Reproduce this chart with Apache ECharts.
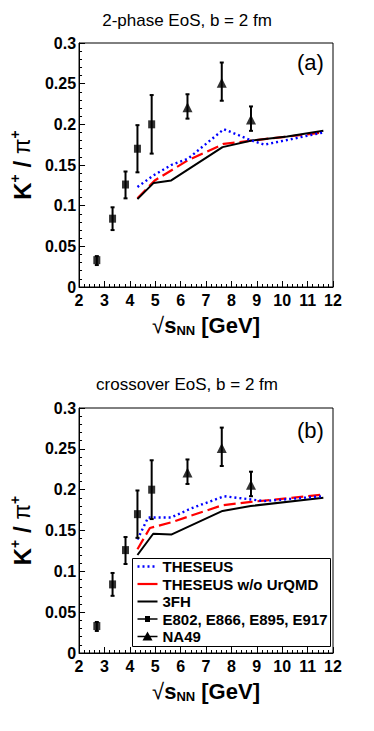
<!DOCTYPE html>
<html>
<head>
<meta charset="utf-8">
<script src="https://cdn.jsdelivr.net/npm/echarts@6/dist/echarts.min.js"></script>
<style>
  html, body { margin: 0; padding: 0; background: #fff; }
  #chart { width: 374px; height: 731px; }
</style>
</head>
<body>
<div id="chart"></div>
<script>
// measured K+/pi+ (same in both panels)
const agsX = [2.70, 3.32, 3.83, 4.30, 4.86];
const agsY = [0.033, 0.084, 0.126, 0.170, 0.200];
const agsLo = [0.027, 0.070, 0.109, 0.141, 0.164];
const agsHi = [0.038, 0.098, 0.142, 0.199, 0.236];
const na49X = [6.27, 7.62, 8.77];
const na49Y = [0.221, 0.251, 0.206];
const na49Lo = [0.207, 0.229, 0.192];
const na49Hi = [0.237, 0.276, 0.222];

// panel (a): 2-phase EoS
const theseusAX = [4.30, 4.92, 5.63, 6.30, 7.70, 8.10, 8.80, 9.30, 11.62];
const theseusAY = [0.123, 0.137, 0.150, 0.158, 0.194, 0.189, 0.180, 0.175, 0.190];
const noUrqmdAX = [4.30, 4.98, 6.30, 7.70, 8.80, 11.62];
const noUrqmdAY = [0.109, 0.131, 0.156, 0.176, 0.180, 0.190];
const threeFhAX = [4.30, 4.94, 5.63, 7.65, 8.80, 10.20, 11.62];
const threeFhAY = [0.108, 0.128, 0.131, 0.172, 0.180, 0.185, 0.192];

// panel (b): crossover EoS
const theseusBX = [4.30, 4.72, 5.63, 6.41, 7.71, 8.50, 9.28, 11.62];
const theseusBY = [0.139, 0.166, 0.166, 0.177, 0.192, 0.189, 0.186, 0.192];
const noUrqmdBX = [4.30, 4.79, 5.63, 7.65, 8.77, 11.62];
const noUrqmdBY = [0.127, 0.153, 0.160, 0.181, 0.185, 0.194];
const threeFhBX = [4.30, 4.92, 5.63, 7.65, 8.76, 11.62];
const threeFhBY = [0.120, 0.146, 0.145, 0.174, 0.180, 0.190];

const panelTitles = ['2-phase EoS, b = 2 fm', 'crossover EoS, b = 2 fm'];
const panelTags = ['(a)', '(b)'];
const legendNames = ['THESEUS', 'THESEUS w/o UrQMD', '3FH', 'E802, E866, E895, E917', 'NA49'];

const FONT = '"Liberation Sans", Arial, Helvetica, sans-serif';
const chart = echarts.init(document.getElementById('chart'), null, { renderer: 'svg' });

const zip = (xs, ys) => xs.map((x, i) => [x, ys[i]]);
const errData = (xs, ys, lo, hi) => xs.map((x, i) => [x, ys[i], lo[i], hi[i]]);

// vertical error bar with small caps
function renderErr(params, api) {
  const x = api.value(0);
  const top = api.coord([x, api.value(3)]);
  const bot = api.coord([x, api.value(2)]);
  const style = { stroke: '#000', lineWidth: 2 };
  const cap = 2;
  return {
    type: 'group',
    children: [
      { type: 'line', shape: { x1: top[0], y1: top[1], x2: bot[0], y2: bot[1] }, style },
      { type: 'line', shape: { x1: top[0] - cap, y1: top[1], x2: top[0] + cap, y2: top[1] }, style },
      { type: 'line', shape: { x1: bot[0] - cap, y1: bot[1], x2: bot[0] + cap, y2: bot[1] }, style }
    ]
  };
}

function panelSeries(i, curves) {
  const base = { xAxisIndex: i, yAxisIndex: i, silent: true, animation: false };
  return [
    Object.assign({}, base, {
      name: legendNames[1], type: 'line', symbol: 'none', data: zip(curves[1][0], curves[1][1]),
      lineStyle: { color: '#ff0000', width: 2.2, type: [12, 5] }, z: 3
    }),
    Object.assign({}, base, {
      name: legendNames[2], type: 'line', symbol: 'none', data: zip(curves[2][0], curves[2][1]),
      lineStyle: { color: '#000', width: 2 }, z: 3
    }),
    Object.assign({}, base, {
      name: legendNames[0], type: 'line', symbol: 'none', data: zip(curves[0][0], curves[0][1]),
      lineStyle: { color: '#0000ff', width: 2.4, type: [2, 3] }, z: 4
    }),
    Object.assign({}, base, {
      type: 'custom', renderItem: renderErr, encode: { x: 0, y: [1, 2, 3] },
      data: errData(agsX, agsY, agsLo, agsHi), z: 5
    }),
    Object.assign({}, base, {
      type: 'custom', renderItem: renderErr, encode: { x: 0, y: [1, 2, 3] },
      data: errData(na49X, na49Y, na49Lo, na49Hi), z: 5
    }),
    Object.assign({}, base, {
      name: legendNames[3], type: 'scatter', symbol: 'rect', symbolSize: [7, 8],
      itemStyle: { color: '#000' }, data: zip(agsX, agsY), z: 6
    }),
    Object.assign({}, base, {
      name: legendNames[4], type: 'scatter', symbol: 'triangle', symbolSize: [10, 10],
      itemStyle: { color: '#000' }, data: zip(na49X, na49Y), z: 6
    })
  ];
}

const tickCommon = {
  axisLine: { lineStyle: { color: '#000', width: 1 } },
  axisTick: { inside: true, length: 6, lineStyle: { color: '#000' } },
  minorTick: { show: true, splitNumber: 5, length: 3, lineStyle: { color: '#000' } },
  splitLine: { show: false },
  minorSplitLine: { show: false }
};

function xAxisFor(i) {
  return Object.assign({}, tickCommon, {
    type: 'value', gridIndex: i, min: 2, max: 12, interval: 1,
    axisLabel: { color: '#000', fontWeight: 'bold', fontSize: 16, fontFamily: FONT, margin: 5 },
    name: '{sq|√}{b|s}{sub|NN}{b| [GeV]}',
    nameLocation: 'middle', nameGap: 26,
    nameTextStyle: {
      color: '#000',
      rich: {
        sq: { fontSize: 22, fontFamily: FONT, color: '#000', lineHeight: 24 },
        b: { fontSize: 22, fontWeight: 'bold', fontFamily: FONT, color: '#000', lineHeight: 24 },
        sub: { fontSize: 13, fontWeight: 'bold', fontFamily: FONT, color: '#000', lineHeight: 13, verticalAlign: 'bottom' }
      }
    }
  });
}

function yAxisFor(i) {
  return Object.assign({}, tickCommon, {
    type: 'value', gridIndex: i, min: 0, max: 0.3, interval: 0.05,
    axisLabel: { color: '#000', fontWeight: 'bold', fontSize: 16, fontFamily: FONT, margin: 3 },
    name: '{b|K}{sup|+}{b| / }{pi|π}{sup|+}',
    nameLocation: 'middle', nameGap: 40,
    nameTextStyle: {
      color: '#000',
      rich: {
        b: { fontSize: 24, fontWeight: 'bold', fontFamily: FONT, color: '#000', lineHeight: 28 },
        pi: { fontSize: 23, fontFamily: FONT, color: '#000', lineHeight: 28 },
        sup: { fontSize: 14, fontWeight: 'bold', fontFamily: FONT, color: '#000', lineHeight: 14, verticalAlign: 'top' }
      }
    }
  });
}

// legend drawn as a plain box inside panel (b)
const rowY = [8, 25.5, 43, 60.5, 78];
const legendChildren = [
  { type: 'rect', shape: { x: 0, y: 0, width: 198, height: 88 }, style: { fill: '#fff', stroke: '#000', lineWidth: 1 } },
  { type: 'line', shape: { x1: 5, y1: rowY[0], x2: 25, y2: rowY[0] }, style: { stroke: '#0000ff', lineWidth: 2.4, lineDash: [2, 3] } },
  { type: 'line', shape: { x1: 5, y1: rowY[1], x2: 25, y2: rowY[1] }, style: { stroke: '#ff0000', lineWidth: 2.2 } },
  { type: 'line', shape: { x1: 5, y1: rowY[2], x2: 25, y2: rowY[2] }, style: { stroke: '#000', lineWidth: 2 } },
  { type: 'line', shape: { x1: 5, y1: rowY[3], x2: 25, y2: rowY[3] }, style: { stroke: '#000', lineWidth: 1.5 } },
  { type: 'rect', shape: { x: 12.5, y: rowY[3] - 3, width: 5, height: 6 }, style: { fill: '#000' } },
  { type: 'line', shape: { x1: 5, y1: rowY[4], x2: 25, y2: rowY[4] }, style: { stroke: '#000', lineWidth: 1.5 } },
  { type: 'polygon', shape: { points: [[15, rowY[4] - 5], [10, rowY[4] + 4], [20, rowY[4] + 4]] }, style: { fill: '#000' } }
];
legendNames.forEach((n, k) => {
  legendChildren.push({
    type: 'text', x: 30, y: rowY[k],
    style: { text: n, fill: '#000', font: 'bold 15px ' + FONT, textVerticalAlign: 'middle', verticalAlign: 'middle' }
  });
});

const titleStyle = { fontSize: 17, fontWeight: 'normal', fontFamily: FONT, color: '#000' };
const tagStyle = { fontSize: 22, fontWeight: 'normal', fontFamily: FONT, color: '#000' };

const option = {
  backgroundColor: '#fff',
  animation: false,
  title: [
    { text: panelTitles[0], left: 'center', top: 12, padding: 0, textStyle: titleStyle },
    { text: panelTitles[1], left: 'center', top: 376, padding: 0, textStyle: titleStyle },
    { text: panelTags[0], left: 297, top: 51, padding: 0, textStyle: tagStyle },
    { text: panelTags[1], left: 297, top: 419, padding: 0, textStyle: tagStyle }
  ],
  grid: [
    { left: 77, top: 43, width: 256, height: 244, show: true, borderColor: '#000', borderWidth: 1, containLabel: false },
    { left: 77, top: 408, width: 256, height: 245, show: true, borderColor: '#000', borderWidth: 1, containLabel: false }
  ],
  xAxis: [xAxisFor(0), xAxisFor(1)],
  yAxis: [yAxisFor(0), yAxisFor(1)],
  series: panelSeries(0, [[theseusAX, theseusAY], [noUrqmdAX, noUrqmdAY], [threeFhAX, threeFhAY]])
    .concat(panelSeries(1, [[theseusBX, theseusBY], [noUrqmdBX, noUrqmdBY], [threeFhBX, threeFhBY]])),
  graphic: [
    { type: 'group', left: 132, top: 558, z: 100, children: legendChildren }
  ]
};

chart.setOption(option);
</script>
</body>
</html>
